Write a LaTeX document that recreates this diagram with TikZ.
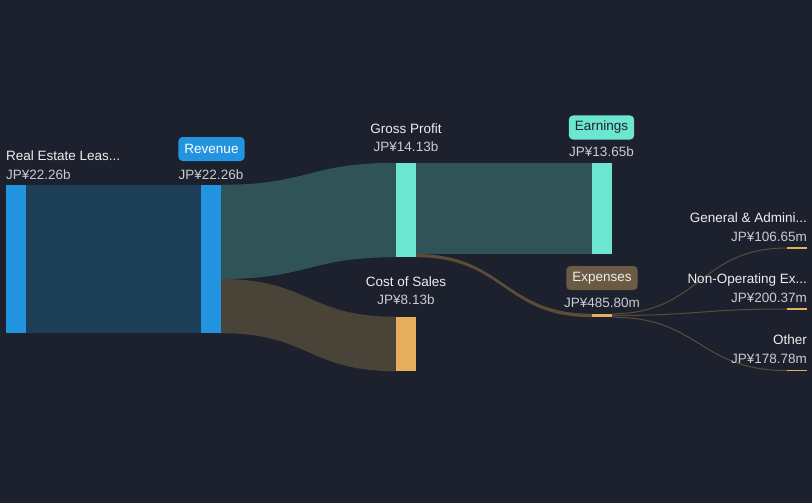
\documentclass[tikz,border=0pt]{standalone}
\usepackage{fontspec}
\setmainfont{Liberation Sans}
\definecolor{bgdark}{HTML}{1C212D}
\definecolor{revblue}{HTML}{2394DF}
\definecolor{blueflow}{HTML}{1D3E57}
\definecolor{teal}{HTML}{6DE6D1}
\definecolor{tealflow}{HTML}{2F5357}
\definecolor{brownflow}{HTML}{4A4438}
\definecolor{thinflow}{HTML}{5C4D39}
\definecolor{costorange}{HTML}{E6AF5F}
\definecolor{expbrown}{HTML}{6B5A44}
\definecolor{lbltext}{HTML}{EEEEEE}
\definecolor{valtext}{HTML}{C9CCD1}
\begin{document}
\begin{tikzpicture}[x=1pt,y=-1pt]
    \tikzstyle{bar}=[rectangle,inner sep=0pt,minimum width=20pt]
    \tikzstyle{lbl}=[inner sep=0pt,text=lbltext,font=\fontsize{13.5}{16}\selectfont]
    \tikzstyle{amount}=[inner sep=0pt,text=valtext,font=\fontsize{13.5}{16}\selectfont]
    \tikzstyle{badge}=[rounded corners=4pt,inner xsep=6pt,minimum height=24pt,font=\fontsize{13.5}{16}\selectfont]
    \tikzstyle{thinlink}=[draw=thinflow,line width=1pt]
    \fill[bgdark] (0,0) rectangle (812,503);
    \useasboundingbox (0,0) rectangle (812,503);
    \begin{scope}
        % bars
        \node [bar,fill=revblue,minimum height=148pt] (re) at (16,259) {};
        \node [bar,fill=revblue,minimum height=148pt] (rev) at (211,259) {};
        \node [bar,fill=teal,minimum height=94pt] (gp) at (406,210) {};
        \node [bar,fill=costorange,minimum height=54pt] (cos) at (406,344) {};
        \node [bar,fill=teal,minimum height=91pt] (earn) at (602,208.5) {};
        \node [bar,fill=costorange,minimum height=3pt] (exp) at (602,315.5) {};
        \node [bar,fill=costorange,minimum height=1.5pt] (ga) at (797,248) {};
        \node [bar,fill=costorange,minimum height=1.5pt] (nop) at (797,309) {};
        \node [bar,fill=costorange,minimum height=1.5pt] (oth) at (797,370.5) {};
        \coordinate (revcut) at (221,279);
        \coordinate (gpcut) at (416,254);
        % flows
        \fill[blueflow] (re.north east) rectangle (rev.south west);
        \fill[tealflow] (rev.north east) .. controls +(88,0) and +(-88,0) .. (gp.north west) -- (gp.south west) .. controls +(-88,0) and +(88,0) .. (revcut) -- cycle;
        \fill[brownflow] (revcut) .. controls +(88,0) and +(-88,0) .. (cos.north west) -- (cos.south west) .. controls +(-88,0) and +(88,0) .. (rev.south east) -- cycle;
        \fill[tealflow] (gp.north east) rectangle (earn.south west);
        \fill[thinflow] (gpcut) .. controls +(88,0) and +(-88,0) .. (exp.north west) -- (exp.south west) .. controls +(-88,0) and +(88,0) .. (gp.south east) -- cycle;
        \path[thinlink] (exp.north east) .. controls +(88,0) and +(-88,0) .. (ga.west);
        \path[thinlink] (exp.east) .. controls +(88,0) and +(-88,0) .. (nop.west);
        \path[thinlink] (exp.south east) .. controls +(88,0) and +(-88,0) .. (oth.west);
        % labels
        \node [lbl,anchor=base west] (relbl) at (6,160) {Real Estate Leas...};
        \node [amount,anchor=base west] (reval) at (6,179) {JP¥22.26b};
        \node [badge,fill=revblue,text=white] (revlbl) at (211.5,149) {Revenue};
        \node [amount,anchor=base] (revval) at (211,179) {JP¥22.26b};
        \node [lbl,anchor=base] (gplbl) at (406,133) {Gross Profit};
        \node [amount,anchor=base] (gpval) at (406,151) {JP¥14.13b};
        \node [badge,fill=teal,text=bgdark] (earnlbl) at (601.5,127.5) {Earnings};
        \node [amount,anchor=base] (earnval) at (601.5,157) {JP¥13.65b};
        \node [lbl,anchor=base] (coslbl) at (406,286) {Cost of Sales};
        \node [amount,anchor=base] (cosval) at (406,304) {JP¥8.13b};
        \node [badge,fill=expbrown,text=lbltext] (explbl) at (602,278) {Expenses};
        \node [amount,anchor=base] (expval) at (602,307) {JP¥485.80m};
        \node [lbl,anchor=base east] (galbl) at (807,222) {General \& Admini...};
        \node [amount,anchor=base east] (gaval) at (807,241) {JP¥106.65m};
        \node [lbl,anchor=base east] (noplbl) at (807,283) {Non-Operating Ex...};
        \node [amount,anchor=base east] (nopval) at (807,302) {JP¥200.37m};
        \node [lbl,anchor=base east] (othlbl) at (807,344) {Other};
        \node [amount,anchor=base east] (othval) at (807,363) {JP¥178.78m};
    \end{scope}
\end{tikzpicture}
\end{document}
